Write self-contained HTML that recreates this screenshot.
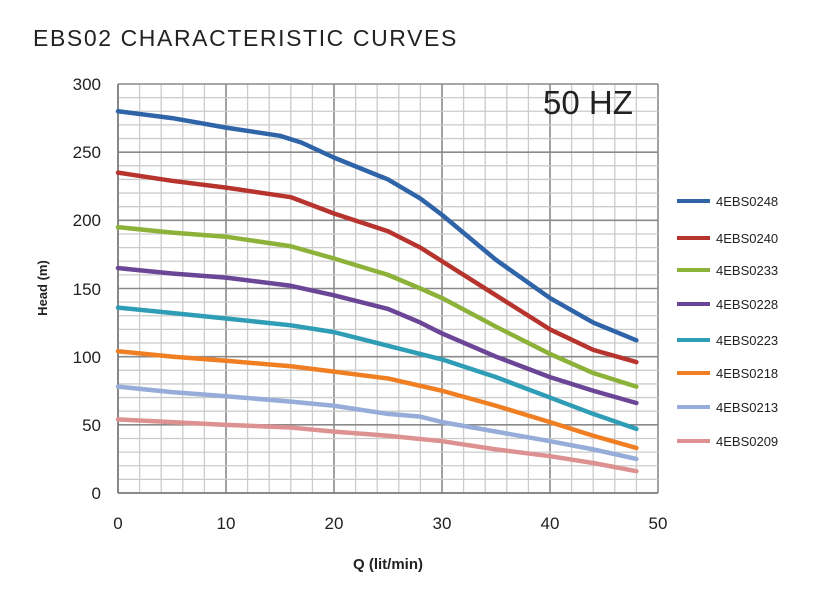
<!DOCTYPE html>
<html><head><style>
body{margin:0;background:#fff;width:832px;height:590px;overflow:hidden}
svg{display:block}
text{font-family:"Liberation Sans",sans-serif}
</style></head><body>
<svg id="s" width="832" height="590" xmlns="http://www.w3.org/2000/svg">
<text x="33" y="46" font-size="23" letter-spacing="1.6" fill="#222">EBS02 CHARACTERISTIC CURVES</text>
<g id="grid"></g>
<g id="curves" fill="none" stroke-width="4.5" stroke-linecap="round" stroke-linejoin="round"></g>
<text x="543" y="114" font-size="33" fill="#222">50 HZ</text>
<g font-size="17" fill="#222" text-anchor="end">
<text x="101" y="499">0</text><text x="101" y="431">50</text><text x="101" y="363">100</text>
<text x="101" y="295">150</text><text x="101" y="226">200</text><text x="101" y="158">250</text><text x="101" y="90">300</text>
</g>
<g font-size="17" fill="#222" text-anchor="middle">
<text x="118" y="529">0</text><text x="226" y="529">10</text><text x="334" y="529">20</text>
<text x="442" y="529">30</text><text x="550" y="529">40</text><text x="658" y="529">50</text>
</g>
<text x="388" y="569" font-size="15" font-weight="bold" text-anchor="middle" fill="#222">Q (lit/min)</text>
<text transform="translate(47,288) rotate(-90)" font-size="13" font-weight="bold" text-anchor="middle" fill="#222">Head (m)</text>
<g id="leg" stroke-width="4"></g>
<g font-size="13" fill="#222">
<text x="716" y="206">4EBS0248</text><text x="716" y="243">4EBS0240</text>
<text x="716" y="275">4EBS0233</text><text x="716" y="309">4EBS0228</text>
<text x="716" y="345">4EBS0223</text><text x="716" y="378">4EBS0218</text>
<text x="716" y="412">4EBS0213</text><text x="716" y="446">4EBS0209</text>
</g>
</svg>
<script>
const px=x=>118+10.8*x, py=h=>493-1.3633*h;
let g=document.getElementById('grid'),out='';
for(let i=0;i<=25;i++){let x=px(i*2),maj=(i%5==0);out+=`<line x1="${x}" y1="${py(300)}" x2="${x}" y2="${py(0)}" stroke="${maj?'#8a8a8a':'#cbcbcb'}" stroke-width="${maj?1.6:1.3}"/>`;}
for(let j=0;j<=30;j++){let y=py(j*10),maj=(j%5==0);out+=`<line x1="${px(0)}" y1="${y}" x2="${px(50)}" y2="${y}" stroke="${maj?'#8a8a8a':'#cbcbcb'}" stroke-width="${maj?1.6:1.3}"/>`;}
out+=`<line x1="${px(0)}" y1="${py(300)}" x2="${px(0)}" y2="${py(0)}" stroke="#777" stroke-width="1.5"/>`;
out+=`<line x1="${px(0)}" y1="${py(0)}" x2="${px(50)}" y2="${py(0)}" stroke="#777" stroke-width="1.5"/>`;
g.innerHTML=out;
const C=[
['#2f64a8',[[0,280],[5,275],[10,268],[15,262],[17,257],[20,246],[25,230],[28,216],[30,204],[35,171],[40,143],[44,125],[48,112]]],
['#b7342e',[[0,235],[5,229],[10,224],[16,217],[20,205],[25,192],[28,180],[30,170],[35,145],[40,120],[44,105],[48,96]]],
['#8cb23a',[[0,195],[5,191],[10,188],[16,181],[20,172],[25,160],[28,150],[30,143],[35,122],[40,102],[44,88],[48,78]]],
['#6b4596',[[0,165],[5,161],[10,158],[16,152],[20,145],[25,135],[28,125],[30,117],[35,100],[40,85],[44,75],[48,66]]],
['#2f9db5',[[0,136],[5,132],[10,128],[16,123],[20,118],[25,108],[30,98],[35,85],[40,70],[44,58],[48,47]]],
['#ef7f22',[[0,104],[5,100],[10,97],[16,93],[20,89],[25,84],[30,75],[35,64],[40,52],[44,42],[48,33]]],
['#96acd9',[[0,78],[5,74],[10,71],[16,67],[20,64],[25,58],[28,56],[30,52],[35,45],[40,38],[44,32],[48,25]]],
['#de9191',[[0,54],[5,52],[10,50],[16,48],[20,45],[25,42],[30,38],[35,32],[40,27],[44,22],[48,16]]]];
let cv='',lg='',ly=[201,238,270,304,340,373,407,441];
C.forEach((c,i)=>{cv+=`<polyline stroke="${c[0]}" points="${c[1].map(p=>px(p[0])+','+py(p[1])).join(' ')}"/>`;
lg+=`<line x1="677" x2="710" y1="${ly[i]}" y2="${ly[i]}" stroke="${c[0]}"/>`;});
document.getElementById('curves').innerHTML=cv;
document.getElementById('leg').innerHTML=lg;
</script>
</body></html>
